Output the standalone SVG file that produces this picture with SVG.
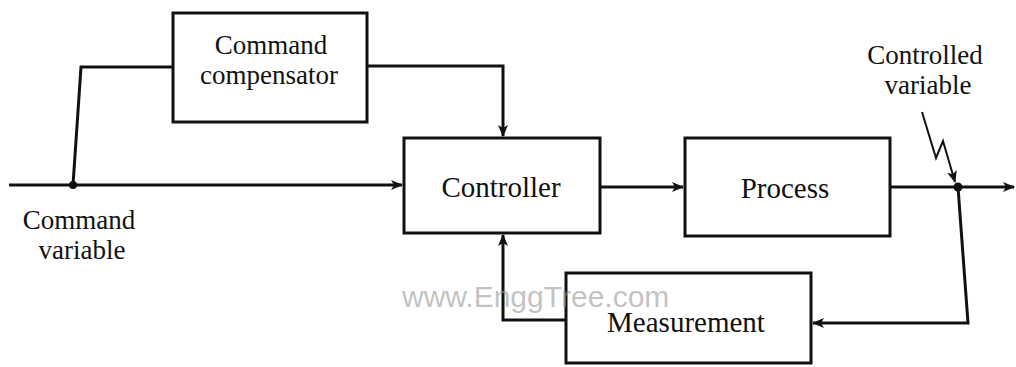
<svg xmlns="http://www.w3.org/2000/svg" width="1016" height="367" viewBox="0 0 1016 367">
<defs>
<style>
.box{fill:#fff;stroke:#111;stroke-width:3}
.ln{fill:none;stroke:#111;stroke-width:3;stroke-linejoin:miter}
.thin{fill:none;stroke:#111;stroke-width:2}
.t{font-family:"Liberation Serif","Times New Roman",serif;font-size:29px;fill:#111;text-anchor:middle}
.t2{font-family:"Liberation Serif","Times New Roman",serif;font-size:27px;fill:#111;text-anchor:middle}
.wm{font-family:"Liberation Sans",Arial,sans-serif;font-size:30px;fill:#999;fill-opacity:0.6}
</style>
<marker id="ah" viewBox="0 0 12 10" refX="11" refY="5" markerWidth="12" markerHeight="10" markerUnits="userSpaceOnUse" orient="auto">
<path d="M0,0 L12,5 L0,10 L3,5 Z" fill="#111"/>
</marker>
</defs>
<rect width="1016" height="367" fill="#fff"/>
<g id="connectors">
<path class="ln" d="M9,185 L402,185" marker-end="url(#ah)"/>
<path class="ln" d="M73,185 L81,67 L173,67"/>
<path class="ln" d="M367,66 L503,66 L503,136" marker-end="url(#ah)"/>
<path class="ln" d="M600,187 L683,187" marker-end="url(#ah)"/>
<path class="ln" d="M890,187 L1014,187" marker-end="url(#ah)"/>
<path class="ln" d="M958,187 L968,323 L813,323" marker-end="url(#ah)"/>
<path class="ln" d="M566,320 L503,320 L503,235" marker-end="url(#ah)"/>
<path class="thin" d="M922,112 L936,158 L943,141 L955,182" marker-end="url(#ah)"/>
<circle cx="73" cy="185" r="4" fill="#111"/>
<circle cx="958" cy="187" r="4.5" fill="#111"/>
</g>
<g id="compensator">
<rect class="box" x="173" y="13" width="194" height="109"/>
<text class="t2" x="271" y="54">Command</text>
<text class="t2" x="269" y="84">compensator</text>
</g>
<g id="controller">
<rect class="box" x="404" y="138" width="196" height="95"/>
<text class="t" x="501" y="197">Controller</text>
</g>
<g id="process">
<rect class="box" x="685" y="138" width="205" height="98"/>
<text class="t" x="785" y="198">Process</text>
</g>
<g id="measurement">
<rect class="box" x="566" y="273" width="245" height="90"/>
<text class="t" x="686" y="332">Measurement</text>
</g>
<g id="labels">
<text class="t2" x="79" y="229">Command</text>
<text class="t2" x="82" y="259">variable</text>
<text class="t2" x="925" y="64">Controlled</text>
<text class="t2" x="928" y="94">variable</text>
</g>
<text class="wm" x="402" y="307">www.EnggTree.com</text>
</svg>
